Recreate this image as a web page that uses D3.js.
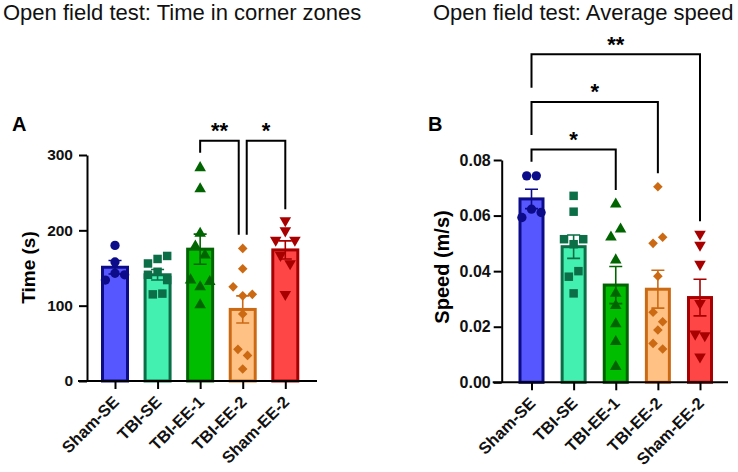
<!DOCTYPE html>
<html>
<head>
<meta charset="utf-8">
<script src="https://cdn.jsdelivr.net/npm/d3@7"></script>
<style>
    body { margin: 0; background: #fff; }
    svg { font-family: "Liberation Sans", Arial, sans-serif; }
</style>
</head>
<body>
<div id="chart"></div>
<script>
// groups and colours
const groups = ["Sham-SE", "TBI-SE", "TBI-EE-1", "TBI-EE-2", "Sham-EE-2"];
const barFill = ["#5757ff", "#44f0b0", "#00bd00", "#ffc184", "#ff4646"];
const barStroke = ["#0c0c8a", "#0b6e46", "#006400", "#cc6a14", "#a80000"];
const markers = ["circle", "square", "triangle", "diamond", "triangleDown"];

// panel A: time in corner zones (s)
const timeMean = [151, 141, 175, 95, 174];
const timeSem = [9, 7, 20, 18, 12];
const timePoints = [
    [180, 158, 134, 143, 141],
    [156, 162, 166, 141, 145, 134, 115, 116],
    [283, 255, 196, 179, 167, 134, 125, 132, 101],
    [176, 149, 125, 113, 115, 89, 42, 34, 16],
    [213, 187, 199.5, 187, 167, 156, 115]
];
const timeTicks = [0, 100, 200, 300];
const timeSig = [
    { from: 2, to: 3, label: "**", top: 319, legFrom: 303, legTo: 194 },
    { from: 3, to: 4, label: "*", top: 319, legFrom: 194, legTo: 228 }
];

// panel B: average speed (m/s)
const speedMean = [0.0660, 0.0488, 0.0350, 0.0335, 0.0305];
const speedSem = [0.0035, 0.0042, 0.0067, 0.0068, 0.0066];
const speedPoints = [
    [0.0743, 0.0743, 0.0593, 0.0623, 0.0611],
    [0.0671, 0.0614, 0.0515, 0.0497, 0.0515, 0.038, 0.040, 0.032],
    [0.0641, 0.0522, 0.0551, 0.044, 0.032, 0.0276, 0.021, 0.0146, 0.0056],
    [0.0704, 0.050, 0.0522, 0.0382, 0.0252, 0.0218, 0.0188, 0.014, 0.012],
    [0.0533, 0.0494, 0.0425, 0.0284, 0.0174, 0.0168, 0.0092]
];
const speedTicks = [0, 0.02, 0.04, 0.06, 0.08];
const speedSig = [
    { from: 0, to: 2, label: "*", top: 0.0838, legFrom: 0.0794, legTo: 0.0692 },
    { from: 0, to: 3, label: "*", top: 0.1009, legFrom: 0.0890, legTo: 0.0752 },
    { from: 0, to: 4, label: "**", top: 0.1181, legFrom: 0.1060, legTo: 0.0580 }
];

const W = 738, H = 472;
const svg = d3.select("#chart").append("svg")
    .attr("width", W)
    .attr("height", H);

// titles
svg.append("text").attr("x", 3).attr("y", 20)
    .style("font-size", "22px").attr("fill", "#111")
    .text("Open field test: Time in corner zones");
svg.append("text").attr("x", 433).attr("y", 20)
    .style("font-size", "22px").attr("fill", "#111")
    .text("Open field test: Average speed");

function markerPath(type) {
    if (type === "circle") return d3.symbol().type(d3.symbolCircle).size(68)();
    if (type === "square") return d3.symbol().type(d3.symbolSquare).size(72)();
    if (type === "diamond") return d3.symbol().type(d3.symbolSquare).size(46)();
    return d3.symbol().type(d3.symbolTriangle).size(58)();
}
function markerRotate(type) {
    if (type === "diamond") return 45;
    if (type === "triangleDown") return 180;
    return 0;
}

// GraphPad-like scatter: rows of close points are spread sideways
function scatterOffsets(values, y, gap, step) {
    const idx = values.map((v, i) => i).sort((a, b) => values[b] - values[a]);
    const off = new Array(values.length).fill(0);
    let i = 0;
    while (i < idx.length) {
        const startY = y(values[idx[i]]);
        const row = [idx[i]];
        let j = i + 1;
        while (j < idx.length && Math.abs(y(values[idx[j]]) - startY) < gap) {
            row.push(idx[j]);
            j++;
        }
        row.sort((a, b) => a - b);
        row.forEach((k, n) => { off[k] = (n - (row.length - 1) / 2) * step; });
        i = j;
    }
    return off;
}

function drawPanel(cfg) {
    const g = svg.append("g");
    const { x, y, axisX, axisEnd, barW } = cfg;
    const y0 = y(0);

    // panel letter
    g.append("text").attr("x", cfg.letterX).attr("y", 131)
        .style("font-size", "20px").style("font-weight", "bold")
        .text(cfg.letter);

    // y axis title
    g.append("text")
        .attr("transform", "translate(" + cfg.labelX + "," + cfg.labelY + ") rotate(-90)")
        .attr("text-anchor", "middle")
        .attr("dy", "0.35em")
        .style("font-size", cfg.labelSize + "px").style("font-weight", "bold")
        .text(cfg.yLabel);

    // bars
    g.selectAll(".bar")
        .data(cfg.means)
        .enter().append("rect")
        .attr("class", "bar")
        .attr("x", (d, i) => x(groups[i]) - barW / 2)
        .attr("y", d => y(d))
        .attr("width", barW)
        .attr("height", d => y0 - y(d))
        .attr("fill", (d, i) => barFill[i])
        .attr("stroke", (d, i) => barStroke[i])
        .attr("stroke-width", 3);

    // error bars (mean +/- SEM)
    const err = g.selectAll(".err")
        .data(cfg.means)
        .enter().append("g")
        .attr("class", "err")
        .attr("stroke", (d, i) => barStroke[i])
        .attr("stroke-width", 1.6)
        .attr("fill", "none");
    err.append("path")
        .attr("d", (d, i) => {
            const cx = x(groups[i]);
            const hi = y(d + cfg.sems[i]), lo = y(d - cfg.sems[i]);
            return "M" + cx + "," + hi + "V" + lo +
                "M" + (cx - 6.5) + "," + hi + "H" + (cx + 6.5) +
                "M" + (cx - 6.5) + "," + lo + "H" + (cx + 6.5);
        });

    // individual animals
    cfg.points.forEach((vals, i) => {
        const off = scatterOffsets(vals, y, 10, 9.6);
        g.selectAll(".pt" + i)
            .data(vals)
            .enter().append("path")
            .attr("class", "pt" + i)
            .attr("d", markerPath(markers[i]))
            .attr("transform", (d, k) => "translate(" + (x(groups[i]) + off[k]) + "," + y(d) + ") rotate(" + markerRotate(markers[i]) + ")")
            .attr("fill", barStroke[i]);
    });

    // y axis
    const yAxis = d3.axisLeft(y)
        .tickValues(cfg.ticks)
        .tickFormat(cfg.tickFormat)
        .tickSize(8)
        .tickSizeOuter(0)
        .tickPadding(cfg.tickPad);
    const ya = g.append("g")
        .attr("transform", "translate(" + axisX + ",0)")
        .call(yAxis);
    ya.selectAll("path, line").attr("stroke", "#000").attr("stroke-width", 2);
    ya.selectAll("text")
        .style("font-size", cfg.tickSize + "px")
        .style("font-weight", "bold")
        .attr("fill", "#111");

    // x axis
    const xAxis = d3.axisBottom(x).tickSize(8).tickSizeOuter(0).tickFormat("");
    const xa = g.append("g")
        .attr("transform", "translate(0," + y0 + ")")
        .call(xAxis);
    xa.select(".domain").remove();
    xa.selectAll("line").attr("stroke", "#000").attr("stroke-width", 2);
    xa.append("line")
        .attr("x1", axisX - 9).attr("x2", axisEnd)
        .attr("stroke", "#000").attr("stroke-width", 2);

    g.selectAll(".xlab")
        .data(groups)
        .enter().append("text")
        .attr("class", "xlab")
        .attr("transform", d => "translate(" + (x(d) + 5) + "," + (y0 + 22) + ") rotate(-45)")
        .attr("text-anchor", "end")
        .style("font-size", "16.5px")
        .style("font-weight", "bold")
        .attr("fill", "#111")
        .text(d => d);

    // significance brackets
    const sig = g.selectAll(".sig")
        .data(cfg.sig)
        .enter().append("g")
        .attr("class", "sig");
    const endX = (s, which) => {
        const gi = which === "from" ? s.from : s.to;
        let px = x(groups[gi]);
        // shared group between two side-by-side brackets: split legs
        cfg.sig.forEach(o => {
            if (o === s || o.top !== s.top) return;
            if (which === "to" && o.from === gi) px -= 4;
            if (which === "from" && o.to === gi) px += 4;
        });
        return px;
    };
    sig.append("path")
        .attr("d", s => "M" + endX(s, "from") + "," + y(s.legFrom) +
            "V" + y(s.top) + "H" + endX(s, "to") + "V" + y(s.legTo))
        .attr("fill", "none")
        .attr("stroke", "#000")
        .attr("stroke-width", 2);
    sig.append("text")
        .attr("x", s => (endX(s, "from") + endX(s, "to")) / 2)
        .attr("y", s => y(s.top) - 2.5)
        .attr("text-anchor", "middle")
        .style("font-size", "22px")
        .style("font-weight", "bold")
        .text(s => s.label);
}

// panel A
drawPanel({
    letter: "A", letterX: 12,
    x: d3.scalePoint().domain(groups).range([115, 285.3]),
    y: d3.scaleLinear().domain([0, 300]).range([381, 155]),
    axisX: 87, axisEnd: 317, barW: 25,
    means: timeMean, sems: timeSem, points: timePoints,
    ticks: timeTicks, tickFormat: d3.format("d"), tickPad: 6, tickSize: 15.5,
    sig: timeSig,
    yLabel: "Time (s)", labelX: 28, labelY: 267.5, labelSize: 19
});

// panel B
drawPanel({
    letter: "B", letterX: 428,
    x: d3.scalePoint().domain(groups).range([531.5, 700]),
    y: d3.scaleLinear().domain([0, 0.08]).range([382.3, 160]),
    axisX: 501.7, axisEnd: 728, barW: 23,
    means: speedMean, sems: speedSem, points: speedPoints,
    ticks: speedTicks, tickFormat: d3.format(".2f"), tickPad: 3, tickSize: 16,
    sig: speedSig,
    yLabel: "Speed (m/s)", labelX: 442, labelY: 267, labelSize: 20
});
</script>
</body>
</html>
